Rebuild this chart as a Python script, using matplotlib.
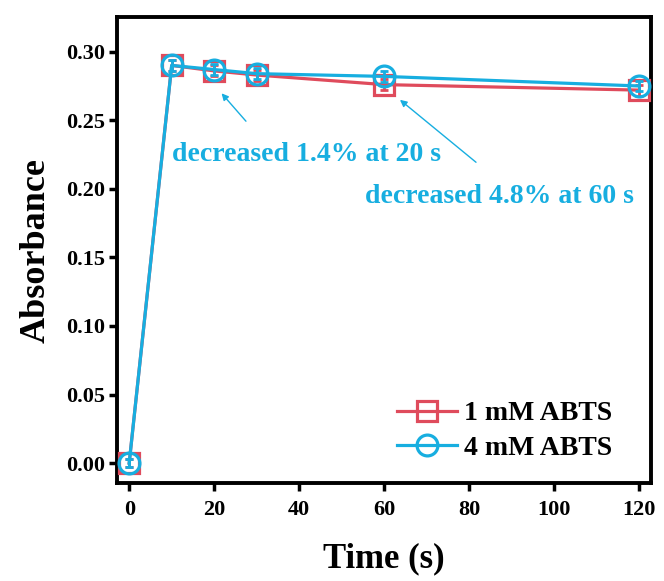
import matplotlib.pyplot as plt

plt.rcParams['font.family'] = 'Liberation Serif'
plt.rcParams['font.weight'] = 'bold'

# Tempo (s) e absorbancia
tempo = [0, 10, 20, 30, 60, 120]
abs_1mM = [0.000, 0.290, 0.286, 0.283, 0.276, 0.272]
abs_4mM = [0.000, 0.290, 0.287, 0.284, 0.282, 0.275]
err_1mM = [0.003, 0.004, 0.004, 0.004, 0.004, 0.004]
err_4mM = [0.003, 0.004, 0.004, 0.004, 0.004, 0.004]

vermelho = '#DF4B5C'
azul = '#17AEE0'

fig, ax = plt.subplots(figsize=(6.64, 5.81), dpi=100)
fig.subplots_adjust(left=0.176, right=0.98, top=0.97, bottom=0.168)

# Barras de erro (sem legenda) e depois as curvas
ax.errorbar(tempo, abs_1mM, yerr=err_1mM, fmt='none', ecolor=vermelho,
            capsize=3, elinewidth=2, capthick=2, zorder=3)
ax.plot(tempo, abs_1mM, color=vermelho, marker='s', ms=14, mfc='none',
        mew=2.3, lw=2.3, label='1 mM ABTS', zorder=3)
ax.errorbar(tempo, abs_4mM, yerr=err_4mM, fmt='none', ecolor=azul,
            capsize=3, elinewidth=2, capthick=2, zorder=4)
ax.plot(tempo, abs_4mM, color=azul, marker='o', ms=15, mfc='none',
        mew=2.3, lw=2.3, label='4 mM ABTS', zorder=4)

# Setas e textos das anotacoes
ax.annotate('', xy=(21.3, 0.2712), xytext=(27.9, 0.2478),
            arrowprops=dict(arrowstyle='-|>', color=azul, lw=1.0, mutation_scale=10))
ax.annotate('', xy=(63.2, 0.2662), xytext=(82.1, 0.2181),
            arrowprops=dict(arrowstyle='-|>', color=azul, lw=1.0, mutation_scale=10))
ax.text(10.0, 0.225, 'decreased 1.4% at 20 s', color=azul, fontsize=20,
        fontweight='bold', va='center')
ax.text(55.5, 0.1945, 'decreased 4.8% at 60 s', color=azul, fontsize=20,
        fontweight='bold', va='center')

ax.set_xlim(-2.9, 122.7)
ax.set_ylim(-0.0148, 0.325)
ax.set_xticks([0, 20, 40, 60, 80, 100, 120])
ax.set_yticks([0.00, 0.05, 0.10, 0.15, 0.20, 0.25, 0.30])
ax.set_yticklabels(['%.2f' % v for v in ax.get_yticks()])

ax.set_xlabel('Time (s)', fontsize=25, fontweight='bold', labelpad=16)
ax.set_ylabel('Absorbance', fontsize=26, fontweight='bold', labelpad=10)

for s in ax.spines.values():
    s.set_linewidth(2.8)
ax.tick_params(direction='out', length=6, width=2.5, labelsize=16)
ax.tick_params(axis='x', pad=6)
ax.tick_params(axis='y', pad=2.5)

leg = ax.legend(loc='lower right', frameon=False, fontsize=20,
                handlelength=2.15, handletextpad=0.25, borderaxespad=0,
                labelspacing=0.32, bbox_to_anchor=(0.948, 0.025))

plt.savefig('out.png', dpi=100)
